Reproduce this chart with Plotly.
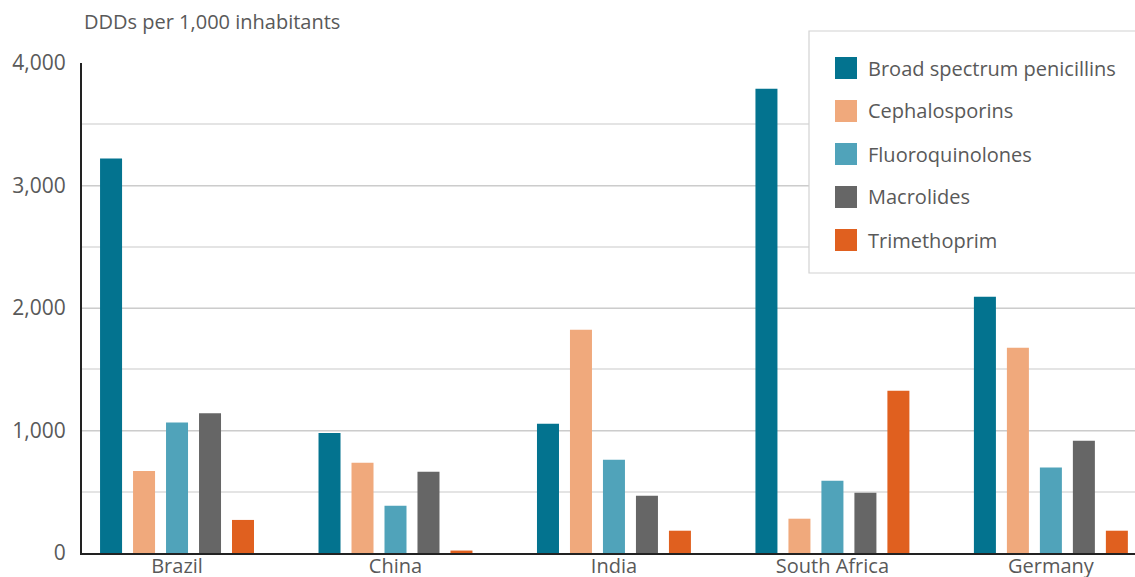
import plotly.graph_objects as go

countries = ["Brazil", "China", "India", "South Africa", "Germany"]
series_names = ["Broad spectrum penicillins", "Cephalosporins", "Fluoroquinolones", "Macrolides", "Trimethoprim"]
penicillins = [3220, 980, 1056, 3790, 2092]
cephalosporins = [670, 737, 1823, 280, 1676]
fluoroquinolones = [1065, 386, 762, 590, 697]
macrolides = [1140, 664, 468, 492, 917]
trimethoprim = [270, 20, 182, 1325, 182]
colors = ["#03738F", "#F0A97C", "#50A3BA", "#666666", "#E0601F"]
y_ticks = [0, 1000, 2000, 3000, 4000]

values = [penicillins, cephalosporins, fluoroquinolones, macrolides, trimethoprim]

FONT = "'Open Sans', Lato, sans-serif"
TXT = "#595959"

fig = go.Figure()
for name, vals, col in zip(series_names, values, colors):
    fig.add_trace(go.Bar(x=countries, y=vals, name=name, marker=dict(color=col, line=dict(width=0)),
                         showlegend=False))

W, H = 1135, 577
ml, mr, mt, mb = 82, 0, 63, 24
pw = W - ml - mr
ph = H - mt - mb

def px2x(px):
    return (px - ml) / pw

def px2y(py):
    return (H - mb - py) / ph

shapes = []
annotations = []
# legend box
shapes.append(dict(type="rect", xref="paper", yref="paper",
                   x0=px2x(809), x1=px2x(1145), y0=px2y(273), y1=px2y(31),
                   line=dict(color="#d2d2d2", width=1.2), fillcolor="white", layer="above"))
for i, (name, col) in enumerate(zip(series_names, colors)):
    cy = 68 + i * 43
    shapes.append(dict(type="rect", xref="paper", yref="paper",
                       x0=px2x(835), x1=px2x(857), y0=px2y(cy + 11), y1=px2y(cy - 11),
                       line=dict(width=0), fillcolor=col, layer="above"))
    annotations.append(dict(text=name, xref="paper", yref="paper", x=px2x(866), y=px2y(cy),
                            xanchor="left", yanchor="middle", showarrow=False,
                            font=dict(family=FONT, size=20, color=TXT)))

annotations.append(dict(text="DDDs per 1,000 inhabitants", xref="paper", yref="paper",
                        x=0, y=px2y(21), xanchor="left", yanchor="middle", showarrow=False,
                        font=dict(family=FONT, size=20, color=TXT)))

fig.update_layout(
    template="none",
    width=W, height=H,
    margin=dict(l=ml, r=mr, t=mt, b=mb, pad=0),
    paper_bgcolor="white", plot_bgcolor="white",
    barmode="group", bargap=0.245, bargroupgap=0.333,
    font=dict(family=FONT, size=20, color=TXT),
    shapes=shapes, annotations=annotations,
    xaxis=dict(type="category", range=[-0.435, 4.385], showline=True, linecolor="#222222",
               linewidth=2, ticks="", showgrid=False, automargin=False, zeroline=False,
               ticklabelstandoff=-6,
               tickfont=dict(family=FONT, size=20, color=TXT)),
    yaxis=dict(range=[0, 4000], tickvals=y_ticks, tickformat=",", showline=True,
               linecolor="#222222", linewidth=2, zeroline=False, automargin=False,
               showgrid=True, gridcolor="#cccccc", gridwidth=1,
               minor=dict(dtick=500, showgrid=True, gridcolor="#e4e4e4", gridwidth=1.5, ticks=""),
               ticks="", ticklabelstandoff=10,
               tickfont=dict(family=FONT, size=21, color=TXT)),
)

fig.write_html("out.html")
